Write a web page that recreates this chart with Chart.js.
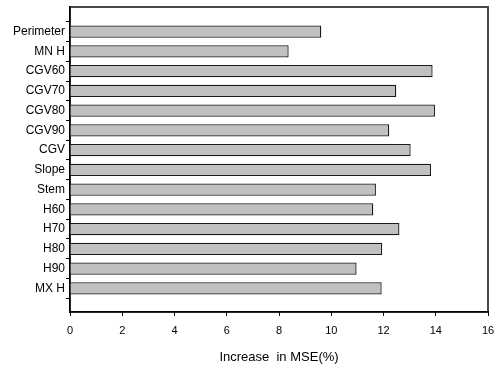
<!DOCTYPE html>
<html>
<head>
<meta charset="utf-8">
<script src="https://cdn.jsdelivr.net/npm/chart.js@4/dist/chart.umd.min.js"></script>
<style>
  html, body { margin: 0; padding: 0; background: #ffffff; }
  #wrap { width: 501px; height: 369px; }
</style>
</head>
<body>
<div id="wrap"><canvas id="c" width="501" height="369"></canvas></div>
<script>
// Variable importance: percent increase in MSE per predictor
const categories = ['Perimeter', 'MN H', 'CGV60', 'CGV70', 'CGV80', 'CGV90', 'CGV',
                    'Slope', 'Stem', 'H60', 'H70', 'H80', 'H90', 'MX H'];
const increaseMSE = [9.62, 8.37, 13.88, 12.49, 13.97, 12.22, 13.04,
                     13.82, 11.71, 11.61, 12.61, 11.95, 10.97, 11.93];
const xTickValues = [0, 2, 4, 6, 8, 10, 12, 14, 16];
const xTitle = 'Increase  in MSE(%)';

// rows sit at 1..n, with an empty tick slot above and below
const rowTicks = [0].concat(categories.map((_, i) => i + 1), [categories.length + 1]);
const rowLabel = v => categories[v - 1] || '';

const FAMILY = '"Liberation Sans", Arial, sans-serif';

// plot frame, drawn first so the black axes sit on top of its left and bottom sides
const frame = {
  id: 'frame',
  beforeDraw(chart) {
    const { ctx, chartArea: a } = chart;
    ctx.save();
    ctx.lineWidth = 2;
    ctx.strokeStyle = '#4a4a4a';
    ctx.strokeRect(a.left, a.top, a.right - a.left, a.bottom - a.top);
    ctx.restore();
  }
};

new Chart(document.getElementById('c'), {
  type: 'bar',
  data: {
    datasets: [{
      data: increaseMSE.map((v, i) => ({ x: v, y: i + 1 })),
      backgroundColor: '#c0c0c0',
      borderColor: '#1a1a1a',
      borderWidth: 1.3,
      barPercentage: 0.62,
      categoryPercentage: 1.0
    }]
  },
  options: {
    indexAxis: 'y',
    responsive: false,
    animation: false,
    layout: { padding: { top: 7, right: 13, left: 0, bottom: 0 } },
    plugins: { legend: { display: false }, tooltip: { enabled: false } },
    scales: {
      x: {
        type: 'linear',
        min: 0,
        max: 16,
        offset: false,
        afterBuildTicks: s => { s.ticks = xTickValues.map(v => ({ value: v })); },
        afterFit: s => { s.height = 57; s.paddingLeft = 0; s.paddingRight = 0; },
        grid: { drawOnChartArea: false, drawTicks: true, tickLength: 4, color: '#000000' },
        border: { display: true, color: '#000000', width: 1.5 },
        ticks: { color: '#000000', font: { family: FAMILY, size: 11 }, padding: 8, maxRotation: 0 },
        title: { display: true, text: xTitle, color: '#000000',
                 font: { family: FAMILY, size: 13 }, padding: { top: 0, bottom: 4 } }
      },
      y: {
        type: 'linear',
        reverse: true,
        offset: false,
        min: -0.25,
        max: categories.length + 1.2,
        afterBuildTicks: s => { s.ticks = rowTicks.map(v => ({ value: v })); },
        afterFit: s => { s.width = 70; s.paddingTop = 0; s.paddingBottom = 0; },
        grid: { drawOnChartArea: false, drawTicks: true, tickLength: 4, color: '#000000' },
        border: { display: true, color: '#000000', width: 1.5 },
        ticks: { color: '#000000', font: { family: FAMILY, size: 12 }, padding: 1,
                 autoSkip: false, callback: v => rowLabel(v) }
      }
    }
  },
  plugins: [frame]
});
</script>
</body>
</html>
